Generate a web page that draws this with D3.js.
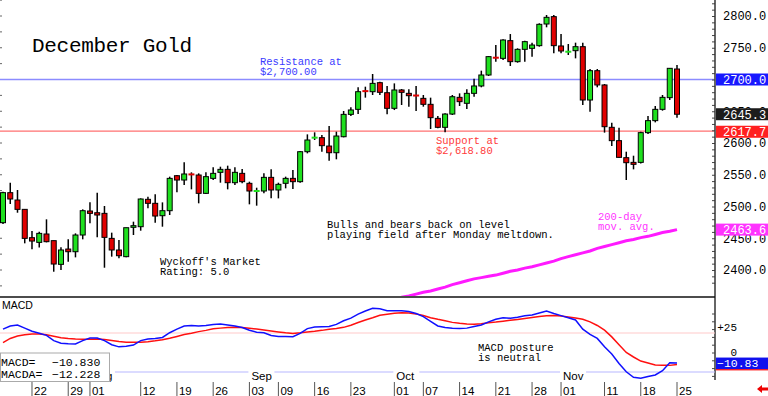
<!DOCTYPE html>
<html>
<head>
<meta charset="utf-8">
<script src="https://cdn.jsdelivr.net/npm/d3@7/dist/d3.min.js"></script>
<style>
body { margin: 0; background: #fff; }
svg { display: block; font-family: "Liberation Mono", monospace; }
</style>
</head>
<body>
<div id="chart"></div>
<script>
// December Gold - daily candles, 200-day average and MACD

var dates = ["07-16","07-17","07-18","07-19","07-22","07-23","07-24","07-25","07-26","07-29","07-30","07-31",
  "08-01","08-02","08-05","08-06","08-07","08-08","08-09","08-12","08-13","08-14","08-15","08-16","08-19","08-20","08-21","08-22","08-23","08-26","08-27","08-28","08-29","08-30",
  "09-03","09-04","09-05","09-06","09-09","09-10","09-11","09-12","09-13","09-16","09-17","09-18","09-19","09-20","09-23","09-24","09-25","09-26","09-27","09-30",
  "10-01","10-02","10-03","10-04","10-07","10-08","10-09","10-10","10-11","10-14","10-15","10-16","10-17","10-18","10-21","10-22","10-23","10-24","10-25","10-28","10-29","10-30","10-31",
  "11-01","11-04","11-05","11-06","11-07","11-08","11-11","11-12","11-13","11-14","11-15","11-18","11-19","11-20","11-21","11-22","11-25"];

var opens = [2474.5,2521.8,2510.2,2495.5,2450.9,2443.5,2456.7,2446.2,2408.9,2433.0,
  2428.8,2455.1,2492.9,2490.2,2489.2,2449.8,2431.5,2421.0,2467.2,2468.2,
  2511.3,2505.0,2485.5,2493.4,2548.5,2541.7,2550.9,2549.6,2520.7,2544.3,
  2553.8,2558.5,2537.5,2552.2,2536.5,2524.0,2524.4,2545.9,2526.0,2536.5,
  2544.3,2539.1,2586.3,2608.0,2608.4,2595.2,2584.7,2609.9,2645.1,2653.0,
  2682.1,2680.8,2695.0,2679.2,2654.6,2683.5,2678.2,2675.0,2670.3,2660.9,
  2638.8,2624.7,2645.6,2671.9,2662.5,2678.2,2689.8,2707.1,2734.6,2733.3,
  2761.2,2728.1,2747.5,2749.1,2753.3,2787.4,2799.0,2752.8,2743.4,2745.4,
  2751.7,2667.7,2713.9,2691.4,2624.7,2603.7,2576.9,2569.5,2569.5,2616.3,
  2635.2,2653.0,2671.4,2716.5];
var highs = [2523.3,2537.5,2526.0,2495.5,2461.4,2460.3,2479.8,2446.2,2435.7,2448.3,
  2457.7,2495.5,2506.5,2521.8,2500.8,2458.8,2447.2,2466.6,2476.1,2512.8,
  2515.5,2519.1,2506.5,2547.0,2549.6,2569.5,2553.8,2552.2,2553.8,2561.7,
  2562.7,2564.3,2561.7,2559.0,2539.1,2529.6,2552.2,2558.5,2537.5,2547.0,
  2557.5,2587.4,2613.6,2616.8,2612.6,2626.8,2617.8,2650.4,2656.2,2687.7,
  2688.7,2708.7,2696.6,2689.8,2693.9,2685.0,2684.5,2689.8,2675.6,2671.4,
  2642.5,2646.7,2675.6,2678.2,2684.5,2701.3,2713.9,2737.0,2754.3,2763.3,
  2771.6,2749.1,2761.2,2758.0,2788.5,2801.6,2801.6,2771.6,2755.9,2758.0,
  2758.0,2716.5,2716.5,2692.9,2632.0,2624.1,2586.3,2580.0,2617.8,2642.5,
  2658.3,2675.6,2717.6,2722.8];
var lows = [2472.4,2503.9,2490.2,2442.0,2432.5,2435.6,2443.5,2397.3,2399.9,2413.1,
  2419.9,2448.3,2473.5,2451.4,2403.6,2421.0,2418.4,2419.9,2455.1,2461.9,
  2497.1,2474.5,2468.2,2486.6,2522.3,2533.8,2527.0,2505.0,2519.7,2541.7,
  2537.5,2527.0,2533.8,2536.5,2503.4,2501.3,2520.7,2512.8,2512.8,2528.6,
  2527.5,2537.5,2583.7,2604.7,2586.3,2572.2,2574.3,2608.9,2642.5,2645.6,
  2671.4,2675.6,2675.6,2645.1,2651.9,2659.8,2657.2,2650.4,2657.2,2622.0,
  2623.1,2616.8,2644.1,2658.3,2653.5,2672.9,2687.7,2705.5,2728.1,2730.7,
  2721.3,2726.5,2728.1,2736.0,2751.7,2782.2,2741.2,2741.2,2738.6,2733.3,
  2659.8,2649.3,2687.7,2616.3,2595.3,2576.9,2541.7,2558.5,2567.9,2614.2,
  2632.5,2650.9,2667.7,2639.9];
var closes = [2521.8,2511.8,2495.5,2449.8,2445.6,2457.7,2444.6,2409.4,2431.5,2428.8,
  2455.1,2493.4,2489.2,2486.6,2451.4,2431.5,2422.5,2466.6,2469.8,2511.8,
  2505.0,2485.0,2493.4,2544.3,2541.7,2551.2,2550.2,2520.7,2547.0,2552.2,
  2558.5,2537.5,2553.8,2539.1,2524.4,2524.8,2545.9,2526.0,2534.9,2544.3,
  2539.1,2586.3,2604.7,2608.8,2595.8,2584.7,2611.0,2645.1,2652.0,2680.8,
  2681.3,2693.9,2679.8,2654.6,2683.5,2679.8,2674.5,2674.5,2660.9,2639.9,
  2624.7,2645.6,2672.9,2665.1,2678.2,2689.8,2707.1,2736.0,2734.0,2762.2,
  2728.1,2747.5,2759.6,2754.3,2786.9,2797.9,2753.3,2744.9,2744.1,2751.7,
  2667.7,2713.9,2691.4,2625.7,2603.7,2577.4,2569.0,2566.4,2616.3,2635.2,
  2653.0,2671.9,2717.6,2645.3];

// 200-day moving average, from 09-27 onward (earlier values sit below the panel)
var maDates = dates.slice(52);
var ma200 = [2349,2351,2354,2357,2359,2362,2365,2367,2370,2373,2377,2380,2383,2386,2388,2390,2392,2395,2398,2400,2403,
  2405,2408,2411,2414,2418,2421,2424,2427,2430,2434,2437,2440,2443,2446,2448,2451,2453,2456,2459,2461,2463.6];

var macd = [24.0,27.2,28.2,25.0,21.8,19.7,17.6,12.2,9.6,9.0,8.7,12.2,14.9,14.9,12.2,8.0,5.8,6.4,7.6,12.2,
  13.8,14.4,15.4,20.3,24.0,27.2,27.7,27.2,27.7,28.8,29.2,28.2,27.2,25.6,22.9,20.8,20.3,17.4,16.5,16.3,
  16.2,19.6,24.5,26.1,26.3,26.6,28.8,32.5,35.2,39.4,42.6,45.3,44.8,42.9,42.9,42.8,42.1,40.0,36.8,32.0,
  27.2,25.6,24.8,24.7,25.0,26.6,28.2,31.4,34.1,35.7,35.2,36.2,37.7,38.5,40.5,42.5,40.0,37.8,35.7,33.4,
  24.0,18.6,14.4,5.8,-1.6,-11.2,-19.8,-25.5,-26.5,-24.6,-23.0,-18.7,-10.5,-10.83];
var macdSignal = [10.1,14.4,17.0,18.3,19.0,19.0,18.1,16.7,15.2,14.4,13.8,13.5,13.6,13.8,13.3,12.2,11.2,10.6,10.4,10.5,
  11.1,12.0,13.1,14.7,16.5,18.4,19.7,21.4,22.7,24.3,25.0,25.6,25.8,25.6,24.8,24.0,23.1,22.1,21.1,20.2,
  19.6,20.2,21.1,21.8,22.7,23.8,24.7,25.8,28.0,30.7,33.4,35.7,38.2,39.2,40.2,40.8,40.5,39.6,37.9,35.7,
  34.0,32.5,30.9,30.0,29.3,28.9,29.5,30.6,31.2,32.1,33.0,33.9,34.9,35.9,37.0,37.7,37.9,37.4,36.5,35.3,
  34.0,31.4,27.7,22.9,16.0,8.0,0.0,-4.6,-8.8,-10.7,-12.8,-13.2,-13.2,-12.228];

var priceTicks = [2400,2450,2500,2550,2600,2650,2700,2750,2800];
var macdTicks = [0,25];
var macdLevels = [20,-20];
var weekTicks = ["07-22","07-29","08-01","08-12","08-19","08-26","09-03","09-09","09-16","09-23",
  "10-01","10-07","10-14","10-21","10-28","11-01","11-11","11-18","11-25"];
var monthStarts = ["08-01","09-03","10-01","11-01"];
var monthNames = ["Aug","Sep","Oct","Nov"];

var resistance = 2700.00, support = 2618.80, lastQuote = 2617.7;

var W = 768, H = 396, axisX = 715;

var svg = d3.select("#chart").append("svg").attr("width", W).attr("height", H);

var x = d3.scalePoint().domain(dates).range([3, 677]);
var y = d3.scaleLinear().domain([2400, 2800]).range([270, 16]);
var ym = d3.scaleLinear().domain([0, 20]).range([352.5, 333]);

svg.append("defs").append("clipPath").attr("id", "pclip")
  .append("rect").attr("x", 0).attr("y", 0).attr("width", axisX - 1).attr("height", 296);

// ---- price panel ----
var pg = svg.append("g").attr("clip-path", "url(#pclip)");

// left edge ticks
pg.selectAll(".ltick").data(d3.range(2375, 2826, 25)).enter().append("line")
  .attr("x1", 0).attr("x2", 2).attr("y1", function(d){ return y(d); }).attr("y2", function(d){ return y(d); })
  .attr("stroke", "#666").attr("stroke-width", 1);

pg.append("line").attr("x1", 0).attr("x2", axisX).attr("y1", y(resistance)).attr("y2", y(resistance))
  .attr("stroke", "#8c8cff").attr("stroke-width", 1.5);
pg.append("line").attr("x1", 0).attr("x2", axisX).attr("y1", y(support)).attr("y2", y(support))
  .attr("stroke", "#ff7070").attr("stroke-width", 1.2);

// 200-day
pg.append("path")
  .attr("d", d3.line().x(function(d, i){ return x(maDates[i]); }).y(function(d){ return y(d); })(ma200))
  .attr("fill", "none").attr("stroke", "#ff1aff").attr("stroke-width", 3);

var candles = dates.map(function(d, i){
  return {date: d, o: opens[i], h: highs[i], l: lows[i], c: closes[i]};
});

var cg = pg.selectAll(".candle").data(candles).enter().append("g").attr("class", "candle");
cg.append("line")
  .attr("x1", function(d){ return x(d.date); }).attr("x2", function(d){ return x(d.date); })
  .attr("y1", function(d){ return y(d.h); }).attr("y2", function(d){ return y(d.l); })
  .attr("stroke", "#000").attr("stroke-width", 1.5);
cg.each(function(d){
  var g = d3.select(this), up = d.c >= d.o;
  var col = up ? "#1fe01f" : "#e00000";
  var top = y(Math.max(d.o, d.c)), bot = y(Math.min(d.o, d.c));
  if (Math.abs(d.o - d.c) < 1.2) {
    g.append("line").attr("x1", x(d.date) - 3).attr("x2", x(d.date) + 3)
      .attr("y1", (top + bot) / 2).attr("y2", (top + bot) / 2)
      .attr("stroke", col).attr("stroke-width", 2);
  } else {
    g.append("rect").attr("x", x(d.date) - 2.5).attr("width", 5)
      .attr("y", top).attr("height", Math.max(bot - top, 1))
      .attr("fill", col).attr("stroke", "#000").attr("stroke-width", 1);
  }
});

// annotations
function note(lines, px, py, color, size) {
  var t = svg.append("text").attr("x", px).attr("y", py).attr("fill", color)
    .style("font-size", (size || 10.5) + "px");
  lines.forEach(function(s, i){
    t.append("tspan").attr("x", px).attr("dy", i ? 10 : 0).text(s);
  });
}
svg.append("text").attr("x", 32).attr("y", 51.5).text("December Gold")
  .style("font-size", "21px").style("letter-spacing", "-0.3px").attr("fill", "#000");
note(["Resistance at", "$2,700.00"], 260, 65, "#3a3aff");
note(["Support at", "$2,618.80"], 436, 144, "#ff3a3a");
note(["Bulls and bears back on level", "playing field after Monday meltdown."], 327, 228, "#000");
note(["Wyckoff's Market", "Rating: 5.0"], 160, 265, "#000");
note(["200-day", "mov. avg."], 598, 220, "#ff33ff");

// right price axis
var ax = svg.append("g").attr("transform", "translate(" + axisX + ",0)")
  .call(d3.axisRight(y).tickValues(priceTicks).tickSize(0).tickPadding(8).tickFormat(d3.format(".1f")));
ax.select(".domain").remove();
ax.selectAll("text").style("font-family", "Liberation Mono").style("font-size", "12px").attr("fill", "#000");
var minor = svg.append("g").attr("transform", "translate(" + axisX + ",0)")
  .call(d3.axisLeft(y).tickValues(d3.range(2380, 2821, 10)).tickSize(3).tickFormat(""));
minor.select(".domain").remove();
minor.selectAll("line").attr("stroke", "#444");

function tag(val, scale, bg, label) {
  var cy = scale(val);
  svg.append("rect").attr("x", axisX + 1).attr("y", cy - 6).attr("width", W - axisX - 1).attr("height", 12).attr("fill", bg);
  svg.append("text").attr("x", axisX + 8).attr("y", cy + 4.5).attr("fill", "#fff")
    .style("font-size", "12px").text(label);
}
tag(resistance, y, "#1818ff", d3.format(".1f")(resistance));
tag(closes[closes.length - 1], y, "#1c1c1c", d3.format(".1f")(closes[closes.length - 1]));
tag(lastQuote, y, "#ff2020", d3.format(".1f")(lastQuote));
tag(ma200[ma200.length - 1], y, "#ff33ff", d3.format(".1f")(ma200[ma200.length - 1]));

svg.append("line").attr("x1", axisX).attr("x2", axisX).attr("y1", 0).attr("y2", 380).attr("stroke", "#333").attr("stroke-width", 1.5);
svg.append("line").attr("x1", 0).attr("x2", axisX).attr("y1", 297).attr("y2", 297).attr("stroke", "#111").attr("stroke-width", 1.5);

// ---- MACD panel ----
svg.append("line").attr("x1", 0).attr("x2", axisX).attr("y1", ym(macdLevels[0])).attr("y2", ym(macdLevels[0]))
  .attr("stroke", "#ffcaca").attr("stroke-width", 1.2);
svg.append("line").attr("x1", 0).attr("x2", axisX).attr("y1", ym(macdLevels[1])).attr("y2", ym(macdLevels[1]))
  .attr("stroke", "#b8b8ff").attr("stroke-width", 1.2);

var mline = d3.line().x(function(d, i){ return x(dates[i]); }).y(function(d){ return ym(d); });
svg.append("path").attr("d", mline(macdSignal)).attr("fill", "none").attr("stroke", "#ff1010").attr("stroke-width", 1.5);
svg.append("path").attr("d", mline(macd)).attr("fill", "none").attr("stroke", "#1010ff").attr("stroke-width", 1.5);

svg.append("text").attr("x", 2).attr("y", 309).style("font-family", "Liberation Sans").style("font-size", "10.5px").text("MACD");
note(["MACD posture", "is neutral"], 478, 351, "#000");

var mAx = svg.append("g").attr("transform", "translate(" + axisX + ",0)")
  .call(d3.axisLeft(ym).tickValues(d3.range(-24, 48, 8)).tickSize(3).tickFormat(""));
mAx.select(".domain").remove();
mAx.selectAll("line").attr("stroke", "#444");
svg.selectAll(".mlab").data(macdTicks).enter().append("text")
  .attr("x", 737).attr("y", function(d){ return ym(d) + 3; }).attr("text-anchor", "end")
  .style("font-size", "11px").text(function(d){ return d > 0 ? "+" + d : d; });

// MACD value tags
svg.append("rect").attr("x", axisX + 1).attr("y", ym(macdSignal[93]) - 6).attr("width", 52).attr("height", 12).attr("fill", "#ff2020");
svg.append("rect").attr("x", axisX + 1).attr("y", ym(macd[93]) - 5.5).attr("width", 52).attr("height", 11.5).attr("fill", "#1010ee");
svg.append("text").attr("x", axisX + 2).attr("y", ym(macd[93]) + 4).attr("fill", "#fff").style("font-size", "11.5px")
  .text(d3.format(".2f")(macd[93]));

// ---- date axis ----
svg.selectAll(".wtick").data(weekTicks).enter().append("line")
  .attr("x1", function(d){ return x(d); }).attr("x2", function(d){ return x(d); })
  .attr("y1", 382).attr("y2", H).attr("stroke", "#555").attr("stroke-width", 1);
svg.selectAll(".wlab").data(weekTicks).enter().append("text")
  .attr("x", function(d){ return x(d) + 2; }).attr("y", 395)
  .style("font-family", "Liberation Sans").style("font-size", "11.5px")
  .text(function(d){ return d.slice(3); });
var mg = svg.selectAll(".mon").data(monthStarts).enter().append("g");
mg.append("rect").attr("x", function(d){ return x(d) - 1; }).attr("y", 366).attr("width", 26).attr("height", 15).attr("fill", "#fff");
mg.append("text").attr("x", function(d){ return x(d) + 2; }).attr("y", 380)
  .style("font-family", "Liberation Sans").style("font-size", "11.5px")
  .text(function(d, i){ return monthNames[i]; });

// value box
svg.append("rect").attr("x", 0.5).attr("y", 353).attr("width", 109).attr("height", 28.5)
  .attr("fill", "#fff").attr("stroke", "#aaa").attr("stroke-width", 1);
var vb = svg.append("g").style("font-size", "11.5px");
vb.append("text").attr("x", 1).attr("y", 366).text("MACD=");
vb.append("text").attr("x", 52).attr("y", 366).text(d3.format(".3f")(macd[93]));
vb.append("text").attr("x", 1).attr("y", 377.5).text("MACDA=");
vb.append("text").attr("x", 52).attr("y", 377.5).text(d3.format(".3f")(macdSignal[93]));

// scroll arrow
svg.append("path").attr("d", "M757,389 L762,385 L762,387.5 L768,387.5 L768,390.5 L762,390.5 L762,393 Z").attr("fill", "#ee0000");
</script>
</body>
</html>
